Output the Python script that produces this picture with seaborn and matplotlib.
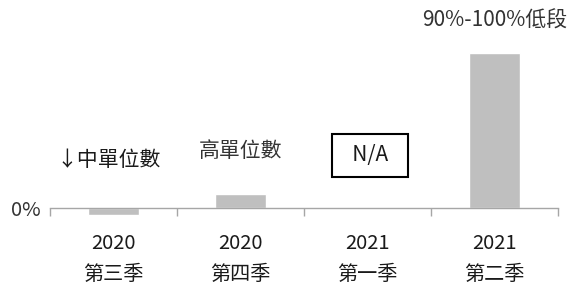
import matplotlib
matplotlib.use("Agg")
import matplotlib.pyplot as plt
import seaborn as sns
import pandas as pd

# data (relative heights, 2021 Q1 has no value)
years = ["2020", "2020", "2021", "2021"]
quarters = ["第三季", "第四季", "第一季", "第二季"]
values = [-4.5, 9.0, 0.0, 100.0]
notes = ["↓中單位數", "高單位數", "N/A", "90%-100%低段"]

sns.set_theme(style="white")
plt.rcParams["font.family"] = ["Noto Sans CJK TC", "DejaVu Sans"]

labels = [f"{y}\n{q}" for y, q in zip(years, quarters)]
df = pd.DataFrame({"period": labels, "value": values})

fig = plt.figure(figsize=(5.73, 2.89), dpi=100)
ax = fig.add_axes([0.0873, 0.2266, 0.8865, 0.6436])

sns.barplot(data=df, x="period", y="value", color="#bfbfbf", saturation=1,
            width=0.4, ax=ax)

ax.set_ylim(-10, 110)
ax.set_xlim(-0.5, 3.5)
ax.set_xlabel("")
ax.set_ylabel("")

# axis line at zero with ticks between categories
for s in ["top", "right", "left"]:
    ax.spines[s].set_visible(False)
ax.spines["bottom"].set_position(("data", 0))
ax.spines["bottom"].set_color("#a6a6a6")
ax.spines["bottom"].set_linewidth(1)
ax.set_xticks([-0.5, 0.5, 1.5, 2.5, 3.5], minor=True)
ax.tick_params(axis="x", which="minor", bottom=True, length=6, color="#a6a6a6",
               width=1, direction="out")
ax.tick_params(axis="x", which="major", length=0, pad=18, labelsize=14.5,
               labelcolor="#1a1a1a")
for t in ax.get_xticklabels():
    t.set_linespacing(1.6)

ax.set_yticks([0])
ax.set_yticklabels(["0%"])
ax.tick_params(axis="y", length=0, pad=7, labelsize=14.5, labelcolor="#333333")

# annotations
tc = "#333333"
ax.text(-0.04, 31, notes[0], ha="center", va="center", fontsize=15, color="#1a1a1a")
ax.text(1.0, 36.5, notes[1], ha="center", va="center", fontsize=15, color=tc)
ax.text(2.02, 34, "  " + notes[2] + "  ", ha="center", va="center", fontsize=15,
        color="#1a1a1a",
        bbox=dict(boxstyle="square,pad=0.5", fc="white", ec="black", lw=1.5))
ax.text(3.0, 121, notes[3], ha="center", va="center", fontsize=15, color=tc,
        clip_on=False)

fig.savefig("out.png", dpi=100)
